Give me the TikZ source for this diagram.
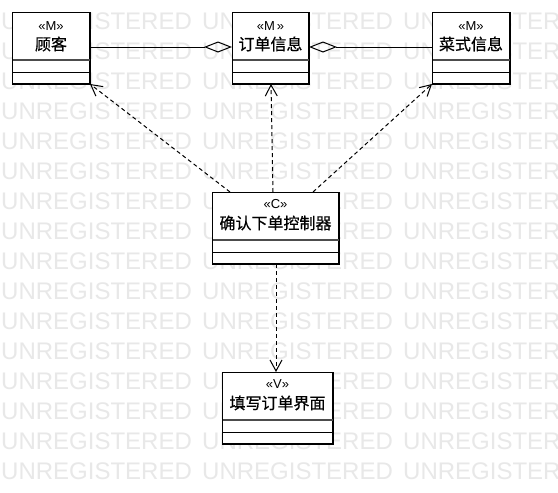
\documentclass[tikz,border=0pt]{standalone}
\usepackage{fontspec}
\setmainfont{Liberation Sans}
\newfontfamily\cjk[FakeBold=0.6]{Noto Sans CJK SC}
\usetikzlibrary{arrows.meta}
\tikzset{
  clsbox/.style={draw=black, line width=1pt, fill=white, rectangle, inner sep=0pt, minimum height=71pt},
  stereo/.style={inner sep=0pt, font=\fontsize{13pt}{14pt}\selectfont},
  cname/.style={inner sep=0pt, font=\cjk\fontsize{16pt}{17pt}\selectfont},
  sepA/.style={draw=black!70, line width=1.6pt},
  sepB/.style={draw=black, line width=0.9pt},
  wmark/.style={anchor=base west, inner sep=0pt, text=black!9, font=\fontsize{24pt}{24pt}\selectfont},
  assoc/.style={draw=black, line width=1pt, -{Diamond[open, length=28pt, width=11pt, line width=1pt]}},
  depend/.style={draw=black, line width=1pt, dash pattern=on 4pt off 3pt, -{Straight Barb[length=11pt, width=12pt, line width=1pt]}}
}
\newcommand{\umlclass}[8]{%
  \node[clsbox, minimum width=#4pt, anchor=north west] (#1) at (#2,#3) {};
  \draw[sepA] ([yshift=-48pt]#1.north west) -- ([yshift=-48pt]#1.north east);
  \draw[sepB] ([yshift=-60pt]#1.north west) -- ([yshift=-60pt]#1.north east);
  \draw[line width=1pt] (#1.north west) rectangle (#1.south east);
  \node[stereo] (#1-s) at ([yshift=-#7pt]#1.north) {#5};
  \node[cname] (#1-n) at ([yshift=-#8pt]#1.north) {#6};
}
\begin{document}
\begin{tikzpicture}[x=1pt,y=-1pt]
\useasboundingbox[fill=white] (0,0) rectangle (558,493);
% watermark
\foreach \r in {0,...,15}{
  \foreach \c in {0,1,2}{
    \node[wmark] (wm-\r-\c) at (1+201*\c, 29.5+30*\r) {UNREGISTERED};
  }
}
% classes
\umlclass{gk}{12}{12}{77}{«M»}{顾客}{14}{32}
\umlclass{dd}{232}{12}{76}{«M\,»}{订单信息}{14}{32}
\umlclass{cs}{432}{12}{77}{«M»}{菜式信息}{14}{32}
\umlclass{ctl}{212}{192}{126}{«C»}{确认下单控制器}{12}{31}
\umlclass{ui}{222}{372}{110}{«V»}{填写订单界面}{12}{31}
% associations
\draw[assoc] (gk.east |- 0,47) -- (dd.west |- 0,47);
\draw[assoc] (cs.west |- 0,47) -- (dd.east |- 0,47);
% dependencies
\draw[depend] (ctl.north west -| 230,0) -- (gk.south east);
\draw[depend] (ctl.north west -| 273,0) -- (dd.south west -| 271,0);
\draw[depend] (ctl.north west -| 313,0) -- (cs.south west);
\draw[depend] (ctl.south west -| 276,0) -- (ui.north west -| 276,0);
\end{tikzpicture}
\end{document}
